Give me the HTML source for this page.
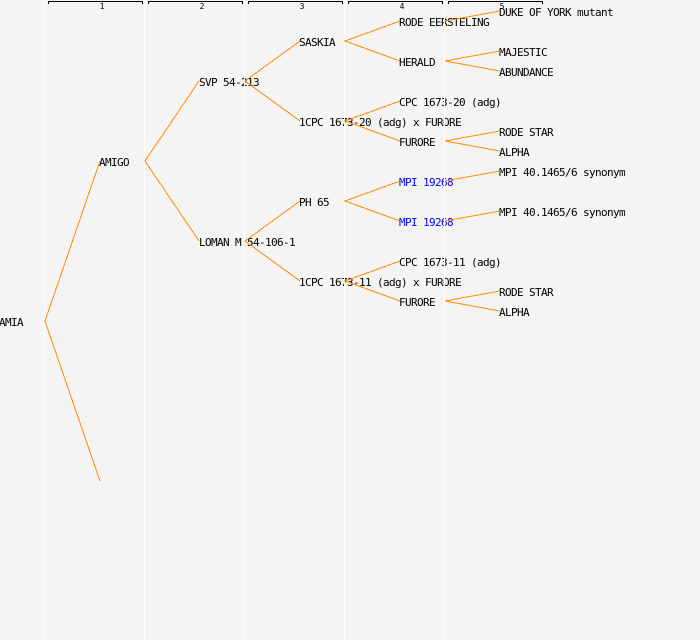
<!DOCTYPE html>
<html>
<head>
<meta charset="utf-8">
<style>
html,body{margin:0;padding:0;background:#f4f4f4;}
svg{display:block;}
text{font-family:"DejaVu Sans Mono","Liberation Mono",monospace;font-size:11px;letter-spacing:-0.622px;fill:#000;}
.h{font-size:8px;letter-spacing:0;text-anchor:middle;}
.b{fill:#0000ff;}
</style>
</head>
<body>
<svg width="700" height="640" viewBox="0 0 700 640" xmlns="http://www.w3.org/2000/svg">
<rect width="700" height="640" fill="#f4f4f4"/>
<g fill="none" stroke="#000" stroke-width="1" shape-rendering="crispEdges">
<path d="M48.5 4V1.5H142.5V4"/>
<path d="M148.5 4V1.5H242.5V4"/>
<path d="M248.5 4V1.5H342.5V4"/>
<path d="M348.5 4V1.5H442.5V4"/>
<path d="M448.5 4V1.5H542.5V4"/>
</g>
<text class="h" x="102" y="9">1</text>
<text class="h" x="202" y="9">2</text>
<text class="h" x="302" y="9">3</text>
<text class="h" x="402" y="9">4</text>
<text class="h" x="502" y="9">5</text>
<text x="-1" y="326">AMIA</text>
<text x="99" y="166">AMIGO</text>
<text x="199" y="86">SVP 54-213</text>
<text x="199" y="246">LOMAN M 54-106-1</text>
<text x="299" y="46">SASKIA</text>
<text x="299" y="126">1CPC 1673-20 (adg) x FURORE</text>
<text x="299" y="206">PH 65</text>
<text x="299" y="286">1CPC 1673-11 (adg) x FURORE</text>
<text x="399" y="26">RODE EERSTELING</text>
<text x="399" y="66">HERALD</text>
<text x="399" y="106">CPC 1673-20 (adg)</text>
<text x="399" y="146">FURORE</text>
<text class="b" x="399" y="186">MPI 19268</text>
<text class="b" x="399" y="226">MPI 19268</text>
<text x="399" y="266">CPC 1673-11 (adg)</text>
<text x="399" y="306">FURORE</text>
<text x="499" y="16">DUKE OF YORK mutant</text>
<text x="499" y="56">MAJESTIC</text>
<text x="499" y="76">ABUNDANCE</text>
<text x="499" y="136">RODE STAR</text>
<text x="499" y="156">ALPHA</text>
<text x="499" y="176">MPI 40.1465/6 synonym</text>
<text x="499" y="216">MPI 40.1465/6 synonym</text>
<text x="499" y="296">RODE STAR</text>
<text x="499" y="316">ALPHA</text>
<g fill="#ffffff" shape-rendering="crispEdges">
<rect x="44" y="0" width="1" height="640"/>
<rect x="144" y="0" width="1" height="640"/>
<rect x="244" y="0" width="1" height="640"/>
<rect x="344" y="0" width="1" height="640"/>
<rect x="444" y="0" width="1" height="640"/>
</g>
<g fill="none" stroke="#ff8c00" stroke-width="1" shape-rendering="crispEdges">
<path d="M100 161L45 321L100 481"/>
<path d="M199 81L145 161L199 241"/>
<path d="M300 41L245 81L300 121"/>
<path d="M300 201L245 241L300 281"/>
<path d="M400 21L345 41L400 61"/>
<path d="M400 101L345 121L400 141"/>
<path d="M400 181L345 201L400 221"/>
<path d="M400 261L345 281L400 301"/>
<path d="M500 11L445 21"/>
<path d="M500 51L445 61L500 71"/>
<path d="M500 131L445 141L500 151"/>
<path d="M500 171L445 181"/>
<path d="M500 211L445 221"/>
<path d="M500 291L445 301L500 311"/>
</g>
</svg>
</body>
</html>
